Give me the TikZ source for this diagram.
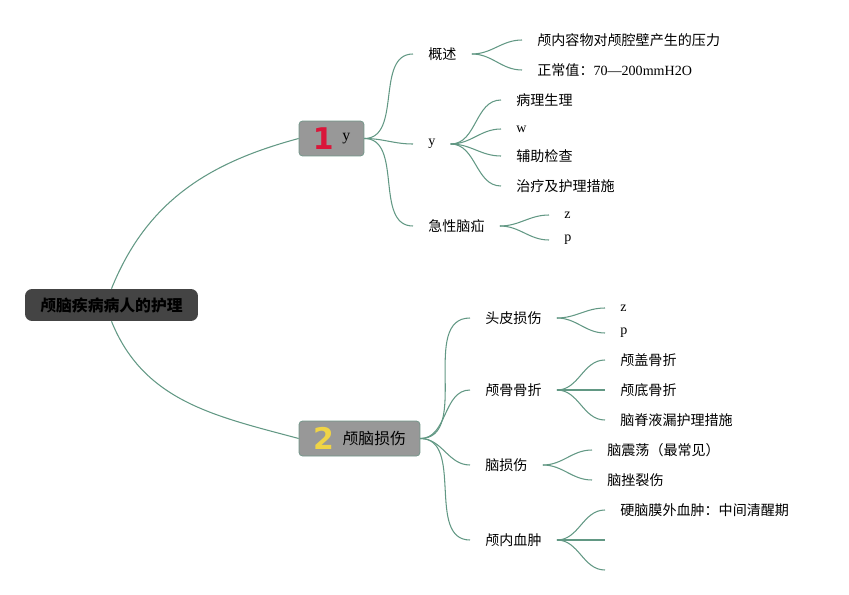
\documentclass[tikz,border=0pt]{standalone}
\usepackage{fontspec}
\setmainfont{Liberation Serif}
\newfontfamily\cjk{Noto Sans CJK SC}
\newfontfamily\numfont{DejaVu Sans}
\definecolor{mapline}{RGB}{98,152,132}
\definecolor{boxgray}{RGB}{152,152,152}
\definecolor{boxedge}{RGB}{112,150,136}
\definecolor{rootgray}{RGB}{68,68,68}
\definecolor{numred}{RGB}{218,22,58}
\definecolor{numyellow}{RGB}{240,212,70}

\begin{document}
\begin{tikzpicture}
  [x=0.02cm, y=0.02cm, font=\cjk\fontsize{8}{10}\selectfont,
   link/.style={draw=mapline, line width=0.6pt},
   topic/.style={anchor=west, inner xsep=0.3cm, inner ysep=1pt},
   leaf/.style={anchor=west, inner xsep=0.3cm, inner ysep=1pt},
   mainbox/.style={draw=boxedge, fill=boxgray, rounded corners=2pt, minimum height=0.7cm, inner sep=0pt}]
  \useasboundingbox (0,0) rectangle (849,-595);

  \node [fill=rootgray, rounded corners=4pt, minimum width=3.46cm, minimum height=0.64cm,
         font=\cjk\bfseries\fontsize{9}{11}\selectfont] (root) at (111.5,-305) {颅脑疾病病人的护理};

  \node [mainbox, minimum width=1.3cm] (t1) at (331.5,-138.5)
    {$\vcenter{\hbox{\numfont\bfseries\fontsize{17}{17}\selectfont\color{numred}1}}$\hspace{5pt}$\vcenter{\hbox{\rmfamily\fontsize{9}{11}\selectfont y}}$};
  \node [mainbox, minimum width=2.42cm] (t2) at (359.5,-438.5)
    {$\vcenter{\hbox{\numfont\bfseries\fontsize{17}{17}\selectfont\color{numyellow}2}}$\hspace{5pt}$\vcenter{\hbox{\cjk\fontsize{9}{11}\selectfont 颅脑损伤}}$};

  \draw [link] (root.north) to [out=68, in=195] (t1.west);
  \draw [link] (root.south) to [out=-68, in=165] (t2.west);

  \node [topic] (gaishu) at (413,-54) {概述};
  \node [topic] (bingli) at (413,-144) {\rmfamily y};
  \node [topic] (naoshan) at (413,-226) {急性脑疝};

  \node [topic] (toupi) at (470,-318) {头皮损伤};
  \node [topic] (lugu) at (470,-390) {颅骨骨折};
  \node [topic] (naosun) at (470,-465) {脑损伤};
  \node [topic] (xuezhong) at (470,-540) {颅内血肿};

  \node [leaf] (yali) at (522,-40) {颅内容物对颅腔壁产生的压力};
  \node [leaf] (zhengchang) at (522,-70) {正常值：{\rmfamily 70—200mmH2O}};

  \node [leaf] (shengli) at (501,-100) {病理生理};
  \node [leaf] (bw) at (501,-129) {\rmfamily w};
  \node [leaf] (jiancha) at (501,-156) {辅助检查};
  \node [leaf] (zhiliao) at (501,-186) {治疗及护理措施};

  \node [leaf] (sz) at (549,-215) {\rmfamily z};
  \node [leaf] (sp) at (549,-240) {\rmfamily p};

  \node [leaf] (tz) at (605,-308) {\rmfamily z};
  \node [leaf] (tp) at (605,-333) {\rmfamily p};

  \node [leaf] (gaigu) at (605,-360) {颅盖骨折};
  \node [leaf] (digu) at (605,-390) {颅底骨折};
  \node [leaf] (louye) at (605,-420) {脑脊液漏护理措施};

  \node [leaf] (zhendang) at (592,-450) {脑震荡（最常见）};
  \node [leaf] (cuolie) at (592,-480) {脑挫裂伤};

  \node [leaf] (yingmo) at (605,-510) {硬脑膜外血肿：中间清醒期};
  \coordinate (xz2) at (605,-540);
  \coordinate (xz3) at (605,-570);

  \foreach \c in {gaishu, bingli, naoshan}
    \draw [link] (t1.east) to [out=0, in=180] (\c.west);
  \foreach \c in {toupi, lugu, naosun, xuezhong}
    \draw [link] (t2.east) to [out=0, in=180] (\c.west);

  \foreach \c in {yali, zhengchang}
    \draw [link] (gaishu.east) to [out=0, in=180] (\c.west);
  \foreach \c in {shengli, bw, jiancha, zhiliao}
    \draw [link] (bingli.east) to [out=0, in=180] (\c.west);
  \foreach \c in {sz, sp}
    \draw [link] (naoshan.east) to [out=0, in=180] (\c.west);
  \foreach \c in {tz, tp}
    \draw [link] (toupi.east) to [out=0, in=180] (\c.west);
  \foreach \c in {gaigu, digu, louye}
    \draw [link] (lugu.east) to [out=0, in=180] (\c.west);
  \foreach \c in {zhendang, cuolie}
    \draw [link] (naosun.east) to [out=0, in=180] (\c.west);
  \foreach \c in {yingmo.west, xz2, xz3}
    \draw [link] (xuezhong.east) to [out=0, in=180] (\c);
\end{tikzpicture}
\end{document}
